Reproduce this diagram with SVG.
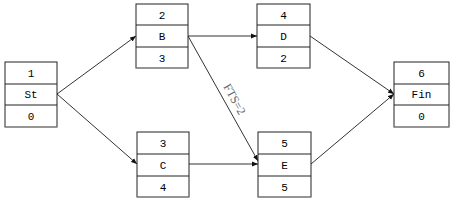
<svg xmlns="http://www.w3.org/2000/svg" width="451" height="202" viewBox="0 0 451 202">
<style>
.box rect{fill:#fff;stroke:#222;stroke-width:1}
.box line{stroke:#222;stroke-width:1}
.box .bot{stroke:#999}
.box text{font-family:"Liberation Mono","DejaVu Sans Mono",monospace;font-size:11px;fill:#000;text-anchor:middle}
.conn line{stroke:#333;stroke-width:1;marker-end:url(#ah)}
.lbl{font-family:"Liberation Serif",serif;font-size:12px;fill:#666}
</style>
<defs>
<marker id="ah" viewBox="0 0 10 10" refX="10" refY="5" markerWidth="6" markerHeight="6" orient="auto" markerUnits="userSpaceOnUse">
<path d="M0,1 L10,5 L0,9 z" fill="#111"/>
</marker>
</defs>
<rect width="451" height="202" fill="#fff"/>
<g class="conn">
<line x1="57" y1="94" x2="136" y2="36"/>
<line x1="57" y1="94" x2="137" y2="164"/>
<line x1="188" y1="36" x2="257" y2="36"/>
<line x1="188" y1="36" x2="258" y2="161"/>
<line x1="189" y1="164" x2="258" y2="164"/>
<line x1="310" y1="36" x2="394" y2="94"/>
<line x1="311" y1="164" x2="394" y2="94"/>
</g>
<text class="lbl" x="0" y="0" transform="translate(231,101) rotate(61)" text-anchor="middle">FTS=2</text>
<g id="St" class="box"><rect x="5" y="62" width="52" height="65"/><line x1="5" y1="84" x2="57" y2="84"/><line x1="5" y1="105" x2="57" y2="105"/><line class="bot" x1="5" y1="127" x2="57" y2="127"/><text x="31" y="77">1</text><text x="31" y="98">St</text><text x="31" y="120">0</text></g>
<g id="B" class="box"><rect x="136" y="4" width="52" height="64"/><line x1="136" y1="25" x2="188" y2="25"/><line x1="136" y1="47" x2="188" y2="47"/><line class="bot" x1="136" y1="68" x2="188" y2="68"/><text x="162" y="19">2</text><text x="162" y="40">B</text><text x="162" y="62">3</text></g>
<g id="D" class="box"><rect x="257" y="4" width="53" height="64"/><line x1="257" y1="25" x2="310" y2="25"/><line x1="257" y1="47" x2="310" y2="47"/><line class="bot" x1="257" y1="68" x2="310" y2="68"/><text x="283.5" y="19">4</text><text x="283.5" y="40">D</text><text x="283.5" y="62">2</text></g>
<g id="C" class="box"><rect x="137" y="132" width="52" height="65"/><line x1="137" y1="154" x2="189" y2="154"/><line x1="137" y1="176" x2="189" y2="176"/><line class="bot" x1="137" y1="197" x2="189" y2="197"/><text x="163" y="147">3</text><text x="163" y="169">C</text><text x="163" y="191">4</text></g>
<g id="E" class="box"><rect x="258" y="132" width="53" height="65"/><line x1="258" y1="154" x2="311" y2="154"/><line x1="258" y1="176" x2="311" y2="176"/><line class="bot" x1="258" y1="197" x2="311" y2="197"/><text x="284.5" y="147">5</text><text x="284.5" y="169">E</text><text x="284.5" y="191">5</text></g>
<g id="Fin" class="box"><rect x="394" y="62" width="55" height="65"/><line x1="394" y1="84" x2="449" y2="84"/><line x1="394" y1="105" x2="449" y2="105"/><line class="bot" x1="394" y1="127" x2="449" y2="127"/><text x="421.5" y="77">6</text><text x="421.5" y="98">Fin</text><text x="421.5" y="120">0</text></g>
</svg>
